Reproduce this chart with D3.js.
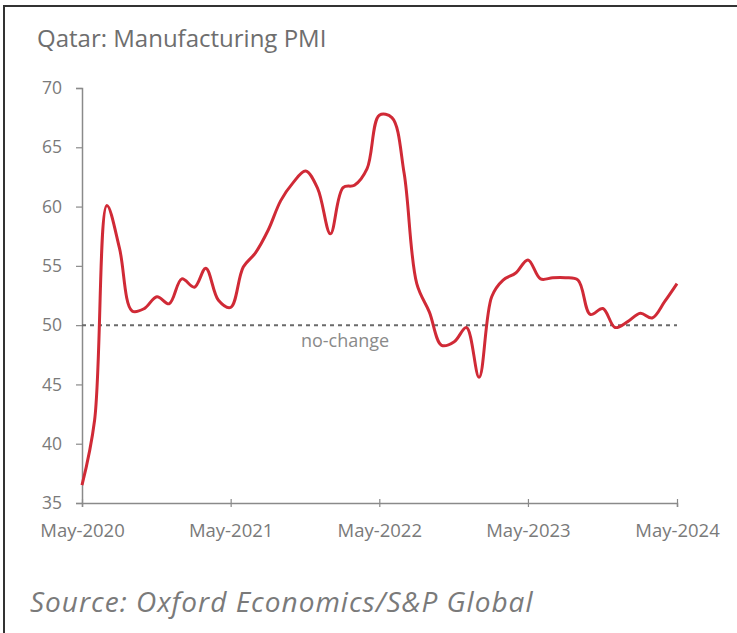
<!DOCTYPE html>
<html>
<head>
<meta charset="utf-8">
<script src="https://cdn.jsdelivr.net/npm/d3@7"></script>
<style>
  body { margin: 0; background: #fff; }
  svg { display: block; font-family: "Open Sans", "Noto Sans", sans-serif; }
</style>
</head>
<body>
<div id="chart"></div>
<script>
// Qatar manufacturing PMI, monthly from May-2020 to May-2024
var firstMonth = new Date(2020, 4, 1);
var pmi = [
    36.5, 42.0, 60.1, 56.5, 51.2, 51.4, 52.4, 51.8, 53.9, 53.2, 54.8, 52.1,
    51.5, 54.9, 56.1, 58.0, 60.5, 62.0, 63.0, 61.5, 57.7, 61.6, 61.8, 63.2,
    67.7, 67.5, 62.8, 53.5, 51.1, 48.3, 48.6, 49.8, 45.6, 52.4, 53.8, 54.4,
    55.5, 53.9, 54.0, 54.0, 53.8, 50.9, 51.4, 49.8, 50.3, 51.0, 50.6, 52.0,
    53.5
];
var yTicks = [35, 40, 45, 50, 55, 60, 65, 70];
var xTickLabels = ["May-2020", "May-2021", "May-2022", "May-2023", "May-2024"];
var noChange = 50;
var title = "Qatar: Manufacturing PMI";
var source = "Source: Oxford Economics/S&P Global";

var width = 737, height = 633;
var margin = {top: 88, right: 60, bottom: 130, left: 82};

var svg = d3.select("#chart")
    .append("svg")
    .attr("width", width)
    .attr("height", height);

svg.append("rect")
    .attr("width", width)
    .attr("height", height)
    .attr("fill", "#fff");

// frame (top and left edges only)
svg.append("path")
    .attr("d", "M4," + height + "V6H" + width)
    .attr("fill", "none")
    .attr("stroke", "#333")
    .attr("stroke-width", 2);

var data = pmi.map(function (v, i) {
    return {date: d3.timeMonth.offset(firstMonth, i), value: v};
});

var x = d3.scaleTime()
    .domain(d3.extent(data, d => d.date))
    .range([margin.left, width - margin.right]);

var y = d3.scaleLinear()
    .domain([35, 70])
    .range([height - margin.bottom, margin.top]);

svg.append("text")
    .attr("x", 37)
    .attr("y", 47)
    .attr("fill", "#6e6e6e")
    .style("font-size", "24px")
    .text(title);

// y axis
var yAxis = svg.append("g")
    .attr("transform", "translate(" + margin.left + ",0)")
    .call(d3.axisLeft(y).tickValues(yTicks).tickSize(6).tickPadding(14));

// x axis
var xTickDates = xTickLabels.map(function (d, i) { return d3.timeYear.offset(firstMonth, i); });
var xAxis = svg.append("g")
    .attr("transform", "translate(0," + y(35) + ")")
    .call(d3.axisBottom(x).tickValues(xTickDates).tickSize(4).tickPadding(17)
        .tickFormat(function (d, i) { return xTickLabels[i]; }));

xAxis.selectAll(".tick line").attr("y1", -4);

[xAxis, yAxis].forEach(function (ax) {
    ax.select(".domain").attr("stroke", "#8a8a8a").attr("stroke-width", 1.5);
    ax.selectAll(".tick line").attr("stroke", "#8a8a8a").attr("stroke-width", 1.2);
    ax.selectAll(".tick text")
        .attr("fill", "#7a7a7a")
        .style("font-size", "17.5px")
        .style("font-family", "'Open Sans', 'Noto Sans', sans-serif");
});
xAxis.selectAll(".tick text").style("font-size", "18.5px");

// no-change reference line
svg.append("line")
    .attr("x1", x.range()[0])
    .attr("x2", x.range()[1])
    .attr("y1", y(noChange))
    .attr("y2", y(noChange))
    .attr("stroke", "#6a6a6a")
    .attr("stroke-width", 2)
    .attr("stroke-dasharray", "4,4");

svg.append("text")
    .attr("x", 345)
    .attr("y", y(noChange) + 22)
    .attr("text-anchor", "middle")
    .attr("fill", "#8a8a8a")
    .style("font-size", "18px")
    .text("no-change");

var line = d3.line()
    .x(d => x(d.date))
    .y(d => y(d.value))
    .curve(d3.curveCatmullRom.alpha(0.5));

svg.append("path")
    .datum(data)
    .attr("fill", "none")
    .attr("stroke", "#d02a36")
    .attr("stroke-width", 3)
    .attr("stroke-linejoin", "round")
    .attr("d", line);

svg.append("text")
    .attr("x", 30)
    .attr("y", 612)
    .attr("fill", "#7a7a7a")
    .style("font-size", "28px")
    .style("letter-spacing", "1px")
    .style("font-style", "italic")
    .text(source);
</script>
</body>
</html>
